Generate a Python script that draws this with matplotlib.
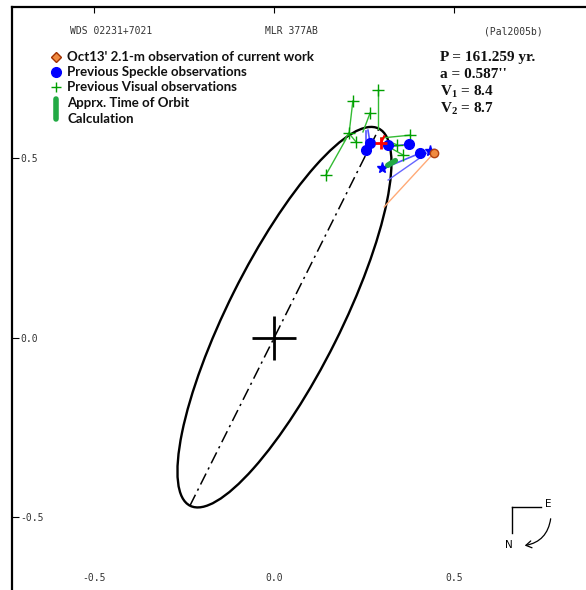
import numpy as np
import matplotlib
matplotlib.use("Agg")
import matplotlib.pyplot as plt
from matplotlib.patches import Ellipse, FancyArrowPatch

plt.rcParams['axes.unicode_minus'] = False
plt.rcParams['mathtext.fontset'] = 'custom'
plt.rcParams['mathtext.rm'] = 'Liberation Serif:bold'
plt.rcParams['mathtext.it'] = 'Liberation Serif:bold'
plt.rcParams['mathtext.bf'] = 'Liberation Serif:bold'

W, H = 586, 590

# apparent orbit (arcsec): centre, semi-axes, position angle of major axis
orbit_center = (0.029, 0.058)
orbit_axes = (0.587, 0.157)
orbit_angle = 63.5

# previous visual observations: observed -> predicted
vis_x = [0.219, 0.289, 0.267, 0.208, 0.228, 0.144, 0.378, 0.342, 0.358]
vis_y = [0.660, 0.691, 0.627, 0.571, 0.546, 0.454, 0.565, 0.538, 0.510]
vis_px = [0.208, 0.289, 0.247, 0.194, 0.214, 0.200, 0.297, 0.314, 0.314]
vis_py = [0.565, 0.582, 0.574, 0.549, 0.563, 0.554, 0.557, 0.549, 0.535]

# previous speckle observations (circles)
spk_x = [0.267, 0.256, 0.317, 0.375, 0.406]
spk_y = [0.543, 0.524, 0.538, 0.540, 0.515]
spk_px = [0.261, 0.256, 0.311, 0.322, 0.308]
spk_py = [0.579, 0.577, 0.543, 0.533, 0.474]

# speckle observations drawn as stars
star_x = [0.433, 0.300]
star_y = [0.521, 0.474]
star_px = [0.317, 0.318]
star_py = [0.440, 0.482]

# other (red) measure
red_x = [0.297]
red_y = [0.543]
red_px = [0.306]
red_py = [0.562]

# Oct13' 2.1-m observation
new_x = [0.444]
new_y = [0.515]
new_px = [0.306]
new_py = [0.365]

# approx. time of orbit calculation (short bar on the orbit)
calc_x = [0.316, 0.337]
calc_y = [0.481, 0.494]

ticks = [-0.5, 0.0, 0.5]
info = ["P = 161.259 yr.", "a = 0.587''", "V$_1$ = 8.4", "V$_2$ = 8.7"]
legend_labels = ["Oct13' 2.1-m observation of current work",
                 "Previous Speckle observations",
                 "Previous Visual observations",
                 "Apprx. Time of Orbit",
                 "Calculation"]


def fx(px):
    return px / W


def fy(py):
    return 1 - py / H


fig = plt.figure(figsize=(W / 100, H / 100), dpi=100)
# axes extends past the right and bottom edge, as in the cropped original
x0, x1 = -0.7278, 0.9
y0, y1 = -0.72, 0.922
ax = fig.add_axes([fx(12), fy(7 + 359 * (y1 - y0)), 360 * (x1 - x0) / W, 359 * (y1 - y0) / H])
ax.set_xlim(x0, x1)
ax.set_ylim(y0, y1)

ax.spines['right'].set_visible(False)
ax.spines['bottom'].set_visible(False)
ax.spines['left'].set_linewidth(1.6)
ax.spines['top'].set_linewidth(1.6)

ax.set_xticks(ticks)
ax.set_yticks(ticks)
ax.set_xticklabels(['%.1f' % t for t in ticks], family='DejaVu Sans Mono', fontsize=7, color='#333333')
ax.set_yticklabels(['%.1f' % t for t in ticks], family='DejaVu Sans Mono', fontsize=7, color='#333333')
ax.tick_params(axis='x', direction='in', length=4, width=0.8, top=True, bottom=True, pad=-17)
ax.tick_params(axis='y', direction='in', length=5, width=0.8, pad=-6)
for lab in ax.get_yticklabels():
    lab.set_horizontalalignment('left')

# orbit
orb = Ellipse(orbit_center, 2 * orbit_axes[0], 2 * orbit_axes[1], angle=orbit_angle,
              fill=False, color='black', lw=1.7, zorder=2)
ax.add_patch(orb)

# line of apsides through the primary and the orbit centre
c = np.array(orbit_center)
d = c / np.hypot(*c)
ca, sa = np.cos(np.radians(orbit_angle)), np.sin(np.radians(orbit_angle))
du = d[0] * ca + d[1] * sa
dv = -d[0] * sa + d[1] * ca
t = 1 / np.sqrt((du / orbit_axes[0]) ** 2 + (dv / orbit_axes[1]) ** 2)
ends = np.array([c - t * d, c + t * d])
ax.plot(ends[:, 0], ends[:, 1], color='black', lw=1.1, ls=(0, (8, 3, 1.5, 3)), zorder=2)

# primary
ax.plot([0], [0], marker='+', color='black', ms=31, mew=2, zorder=3)

# O-C lines and points
for i in range(len(vis_x)):
    ax.plot([vis_x[i], vis_px[i]], [vis_y[i], vis_py[i]], color='#33bb33', lw=1, zorder=3)
ax.plot(vis_x, vis_y, ls='none', marker='+', color='#00a000', ms=8, mew=1, zorder=4)

for i in range(len(spk_x)):
    ax.plot([spk_x[i], spk_px[i]], [spk_y[i], spk_py[i]], color='#5555ff', lw=1.2, zorder=3)
ax.plot(spk_x, spk_y, ls='none', marker='o', color='#0000ff', ms=7, zorder=4)

for i in range(len(star_x)):
    ax.plot([star_x[i], star_px[i]], [star_y[i], star_py[i]], color='#6666ff', lw=1, zorder=3)
ax.plot(star_x, star_y, ls='none', marker='*', color='#0000ff', ms=8, zorder=4)

for i in range(len(red_x)):
    ax.plot([red_x[i], red_px[i]], [red_y[i], red_py[i]], color='red', lw=1.5, zorder=3)
ax.plot(red_x, red_y, ls='none', marker='+', color='red', ms=9, mew=2, zorder=4)

for i in range(len(new_x)):
    ax.plot([new_x[i], new_px[i]], [new_y[i], new_py[i]], color='#ffaa77', lw=1, zorder=3)
ax.plot(new_x, new_y, ls='none', marker='o', ms=6, mfc='#f08a40', mec='#b04010', mew=1, zorder=5)

ax.plot(calc_x, calc_y, color='#22aa44', lw=4, solid_capstyle='round', zorder=4)

# header
mono = dict(family='DejaVu Sans Mono', fontsize=7, color='#333333', va='center')
fig.text(fx(70), fy(31), 'WDS 02231+7021', **mono)
fig.text(fx(265), fy(31), 'MLR 377AB', **mono)
fig.text(fx(484), fy(31), '(Pal2005b)', **mono)

# legend drawn by hand
leg_y = [57, 72, 87, 103, 119]
for yy, lab in zip(leg_y, legend_labels):
    fig.text(fx(67), fy(yy), lab, family='Lato', fontweight='bold', fontsize=9.5,
             va='center', color='#111111')
fig.lines.append(plt.Line2D([fx(56)], [fy(57)], marker='D', ms=5, mfc='#f08a40', mec='#a03000',
                            transform=fig.transFigure))
fig.lines.append(plt.Line2D([fx(56)], [fy(72)], marker='o', ms=7, color='#0000ff',
                            transform=fig.transFigure))
fig.lines.append(plt.Line2D([fx(56)], [fy(87)], marker='+', ms=7, mew=1, color='#00a000',
                            transform=fig.transFigure))
fig.lines.append(plt.Line2D([fx(56), fx(56)], [fy(99), fy(119)], lw=4, color='#22aa44',
                            solid_capstyle='round', transform=fig.transFigure))

# orbit parameters
for k, s in enumerate(info):
    fig.text(fx(440), fy(58 + 17 * k), s, family='Liberation Serif', fontweight='bold',
             fontsize=11, va='center', color='#111111')

# orientation
fig.lines.append(plt.Line2D([fx(512), fx(541)], [fy(507), fy(507)], lw=1, color='black',
                            transform=fig.transFigure))
fig.lines.append(plt.Line2D([fx(512), fx(512)], [fy(507), fy(533)], lw=1, color='black',
                            transform=fig.transFigure))
fig.text(fx(548), fy(504), 'E', family='DejaVu Sans', fontsize=7.5, ha='center', va='center')
fig.text(fx(509), fy(545), 'N', family='DejaVu Sans', fontsize=7.5, ha='center', va='center')
arr = FancyArrowPatch((fx(551), fy(516)), (fx(522), fy(546)), transform=fig.transFigure,
                      connectionstyle='arc3,rad=-0.4', arrowstyle='->,head_length=4,head_width=2.5',
                      lw=0.9, color='black')
fig.patches.append(arr)

fig.savefig('out.png', dpi=100)
